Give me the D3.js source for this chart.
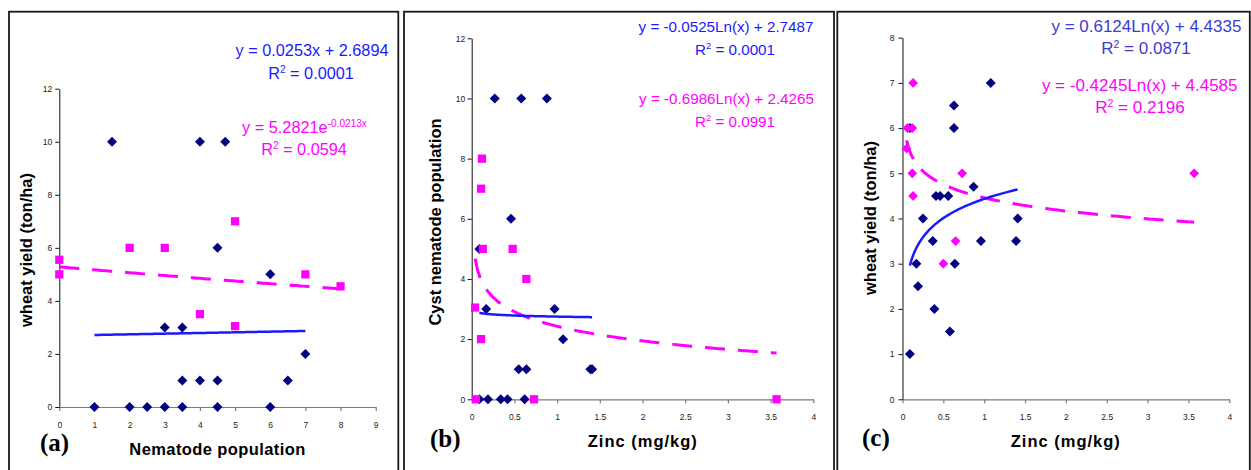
<!DOCTYPE html>
<html>
<head>
<meta charset="utf-8">
<script src="https://cdn.jsdelivr.net/npm/d3@7"></script>
<style>
    body { margin: 0; background: #fff; }
    svg { display: block; font-family: Arial, "Liberation Sans", sans-serif; }
</style>
</head>
<body>
<div id="chart"></div>
<script>
// ---- panel (a): wheat yield vs nematode population
const aBlueX = [1, 1.5, 2, 2.5, 3, 3, 3.5, 3.5, 3.5, 4, 4, 4.5, 4.5, 4.5, 4.72, 6, 6, 6.5, 7];
const aBlueY = [0, 10, 0, 0, 0, 3, 3, 1, 0, 10, 1, 1, 6, 0, 10, 5, 0, 1, 2];
const aPinkX = [0, 0, 2, 3, 4, 5, 5, 7, 8];
const aPinkY = [5.55, 5, 6, 6, 3.5, 3.05, 7, 5, 4.55];
const aXTicks = [0, 1, 2, 3, 4, 5, 6, 7, 8, 9];
const aYTicks = [0, 2, 4, 6, 8, 10, 12];
const aLinear = [0.0253, 2.6894];   // y = m*x + b
const aExpo = [5.2821, -0.0213];    // y = a*e^(b*x)

// ---- panel (b): cyst nematode population vs zinc
const bBlueX = [0.09, 0.19, 0.34, 0.42, 0.62, 0.55, 0.64, 1.39, 1.41, 1.07, 0.17, 0.97, 0.09, 0.46, 0.27, 0.58, 0.88];
const bBlueY = [0, 0, 0, 0, 0, 1, 1, 1, 1, 2, 3, 3, 5, 6, 10, 10, 10];
const bPinkX = [0.12, 0.11, 0.13, 0.48, 0.64, 0.04, 0.11, 0.05, 0.73, 3.57];
const bPinkY = [8, 7, 5, 5, 4, 3.05, 2, 0, 0, 0];
const zincTicks = [0, 0.5, 1, 1.5, 2, 2.5, 3, 3.5, 4];
const bYTicks = [0, 2, 4, 6, 8, 10, 12];
const bLogBlue = [-0.0525, 2.7487]; // y = a*ln(x) + b
const bLogPink = [-0.6986, 2.4265];

// ---- panel (c): wheat yield vs zinc
const cBlueX = [1.08, 0.63, 0.63, 0.09, 0.87, 0.41, 0.46, 0.56, 0.25, 1.41, 0.37, 0.96, 1.39, 0.17, 0.64, 0.19, 0.39, 0.58, 0.09];
const cBlueY = [7, 6.5, 6, 6, 4.7, 4.5, 4.5, 4.5, 4, 4, 3.5, 3.5, 3.5, 3, 3, 2.5, 2, 1.5, 1];
const cPinkX = [0.13, 0.06, 0.12, 0.05, 0.12, 0.73, 3.57, 0.13, 0.65, 0.5];
const cPinkY = [7, 6, 6, 5.55, 5, 5, 5, 4.5, 3.5, 3];
const cYTicks = [0, 1, 2, 3, 4, 5, 6, 7, 8];
const cLogBlue = [0.6124, 4.4335];
const cLogPink = [-0.4245, 4.4585];

const NAVY = "#000080", PINK = "#ff00ff", BLUE = "#1a1aff";
const SANS = "Arial, 'Liberation Sans', sans-serif";
const SERIF = "'Times New Roman', 'Liberation Serif', serif";

const svg = d3.select("#chart").append("svg")
    .attr("width", 1251)
    .attr("height", 470);

// panel frames
[[9, 389.3], [404, 430], [837.3, 412.5]].forEach(f => {
    svg.append("rect")
        .attr("x", f[0]).attr("y", 11.7)
        .attr("width", f[1]).attr("height", 480)
        .attr("fill", "none")
        .attr("stroke", "#1a1a1a")
        .attr("stroke-width", 1.8);
});

const linFn = c => x => c[0] * x + c[1];
const expFn = c => x => c[0] * Math.exp(c[1] * x);
const logFn = c => x => c[0] * Math.log(x) + c[1];

function trend(f, xs) {
    let ext = d3.extent(xs);
    let n = 120;
    return d3.range(n + 1).map(i => {
        let x = ext[0] + (ext[1] - ext[0]) * i / n;
        return [x, f(x)];
    });
}

function drawPanel(p) {
    let xScale = d3.scaleLinear().domain(p.xDomain).range(p.xRange);
    let yScale = d3.scaleLinear().domain(p.yDomain).range(p.yRange);
    let g = svg.append("g");

    // axes
    g.append("g")
        .attr("transform", `translate(0,${p.yRange[0]})`)
        .call(d3.axisBottom(xScale).tickValues(p.xTicks).tickFormat(d => d)
            .tickSize(4).tickSizeOuter(0).tickPadding(p.xPad))
        .call(a => a.selectAll("line, path").attr("stroke", "#7a7a7a").attr("stroke-width", 1.2))
        .call(a => a.selectAll("text").attr("font-size", 8.5).attr("fill", "#222")
            .style("font-family", SANS));

    g.append("g")
        .attr("transform", `translate(${p.xRange[0]},0)`)
        .call(d3.axisLeft(yScale).tickValues(p.yTicks)
            .tickSize(4).tickSizeOuter(0).tickPadding(p.yPad))
        .call(a => a.selectAll("line, path").attr("stroke", "#111"))
        .call(a => a.selectAll("text").attr("font-size", 8.5).attr("fill", "#222")
            .style("font-family", SANS));

    // markers
    let blue = d3.symbol(d3.symbolSquare, 50)();
    g.append("g").selectAll("path")
        .data(d3.zip(p.blueX, p.blueY))
        .join("path")
        .attr("d", blue)
        .attr("fill", NAVY)
        .attr("transform", d => `translate(${xScale(d[0])},${yScale(d[1])}) rotate(45)`);

    let pink = d3.symbol(d3.symbolSquare, p.pinkDiamond ? 48 : 68)();
    g.append("g").selectAll("path")
        .data(d3.zip(p.pinkX, p.pinkY))
        .join("path")
        .attr("d", pink)
        .attr("fill", PINK)
        .attr("transform", d => `translate(${xScale(d[0])},${yScale(d[1])})` + (p.pinkDiamond ? " rotate(45)" : ""));

    // trendlines
    let line = d3.line().x(d => xScale(d[0])).y(d => yScale(d[1]));
    g.append("path")
        .attr("d", line(trend(p.pinkFn, p.pinkX)))
        .attr("fill", "none")
        .attr("stroke", PINK)
        .attr("stroke-width", 3)
        .attr("stroke-dasharray", "20,13");
    g.append("path")
        .attr("d", line(trend(p.blueFn, p.blueX)))
        .attr("fill", "none")
        .attr("stroke", BLUE)
        .attr("stroke-width", 2.5);

    // axis titles
    g.append("text")
        .attr("x", p.xTitle[0]).attr("y", p.xTitle[1])
        .attr("text-anchor", "middle")
        .attr("font-size", 16.5).attr("font-weight", "bold")
        .attr("letter-spacing", p.xSpacing)
        .text(p.xLabel);
    g.append("text")
        .attr("transform", `translate(${p.yTitle[0]},${p.yTitle[1]}) rotate(-90)`)
        .attr("text-anchor", "middle")
        .attr("font-size", 16.5).attr("font-weight", "bold")
        .text(p.yLabel);
    g.append("text")
        .attr("x", p.tag[0]).attr("y", p.tag[1])
        .style("font-family", SERIF)
        .attr("font-size", 25).attr("font-weight", "bold")
        .text(p.tagText);

    // equations
    p.eqs.forEach(e => {
        let t = g.append("text")
            .attr("x", e.x).attr("y", e.y)
            .attr("text-anchor", "middle")
            .attr("font-size", p.eqSize)
            .attr("fill", e.color);
        if (e.sup) {
            t.append("tspan").text(e.main);
            t.append("tspan").attr("font-size", p.eqSize * 0.62).attr("dy", -6).text(e.sup);
            if (e.rest) t.append("tspan").attr("dy", 6).text(e.rest);
        } else {
            t.text(e.main);
        }
    });
}

drawPanel({
    xDomain: [0, 9], xRange: [59.3, 375.7], yDomain: [0, 12], yRange: [407, 88.7],
    xTicks: aXTicks, yTicks: aYTicks, xPad: 11, yPad: 3,
    blueX: aBlueX, blueY: aBlueY, pinkX: aPinkX, pinkY: aPinkY,
    blueFn: linFn(aLinear), pinkFn: expFn(aExpo), pinkDiamond: false,
    xLabel: "Nematode population", xTitle: [217.5, 455], xSpacing: 0.4,
    yLabel: "wheat yield (ton/ha)", yTitle: [32, 250],
    tagText: "(a)", tag: [40, 451],
    eqSize: 16.3,
    eqs: [
        {x: 312, y: 56, color: BLUE, main: "y = 0.0253x + 2.6894"},
        {x: 311, y: 79, color: BLUE, main: "R", sup: "2", rest: " = 0.0001"},
        {x: 304.5, y: 132.7, color: PINK, main: "y = 5.2821e", sup: "-0.0213x"},
        {x: 304, y: 155, color: PINK, main: "R", sup: "2", rest: " = 0.0594"}
    ]
});

drawPanel({
    xDomain: [0, 4], xRange: [471.7, 813.3], yDomain: [0, 12], yRange: [399.3, 38.3],
    xTicks: zincTicks, yTicks: bYTicks, xPad: 10.5, yPad: 2.5,
    blueX: bBlueX, blueY: bBlueY, pinkX: bPinkX, pinkY: bPinkY,
    blueFn: logFn(bLogBlue), pinkFn: logFn(bLogPink), pinkDiamond: false,
    xLabel: "Zinc (mg/kg)", xTitle: [642.8, 447], xSpacing: 1,
    yLabel: "Cyst nematode population", yTitle: [441, 222],
    tagText: "(b)", tag: [430, 447],
    eqSize: 15.2,
    eqs: [
        {x: 726, y: 32.3, color: BLUE, main: "y = -0.0525Ln(x) + 2.7487"},
        {x: 735, y: 55, color: BLUE, main: "R", sup: "2", rest: " = 0.0001"},
        {x: 726.5, y: 104.3, color: PINK, main: "y = -0.6986Ln(x) + 2.4265"},
        {x: 735, y: 126.7, color: PINK, main: "R", sup: "2", rest: " = 0.0991"}
    ]
});

drawPanel({
    xDomain: [0, 4], xRange: [902.5, 1229.3], yDomain: [0, 8], yRange: [399.3, 37.7],
    xTicks: zincTicks, yTicks: cYTicks, xPad: 10.5, yPad: 4,
    blueX: cBlueX, blueY: cBlueY, pinkX: cPinkX, pinkY: cPinkY,
    blueFn: logFn(cLogBlue), pinkFn: logFn(cLogPink), pinkDiamond: true,
    xLabel: "Zinc (mg/kg)", xTitle: [1065.8, 447], xSpacing: 1,
    yLabel: "wheat yield (ton/ha)", yTitle: [876, 218],
    tagText: "(c)", tag: [862, 446],
    eqSize: 17,
    eqs: [
        {x: 1146.4, y: 31.7, color: "#3c3cd0", main: "y = 0.6124Ln(x) + 4.4335"},
        {x: 1146, y: 54.3, color: "#3c3cd0", main: "R", sup: "2", rest: " = 0.0871"},
        {x: 1139.7, y: 90.7, color: PINK, main: "y = -0.4245Ln(x) + 4.4585"},
        {x: 1140, y: 113.3, color: PINK, main: "R", sup: "2", rest: " = 0.2196"}
    ]
});
</script>
</body>
</html>
